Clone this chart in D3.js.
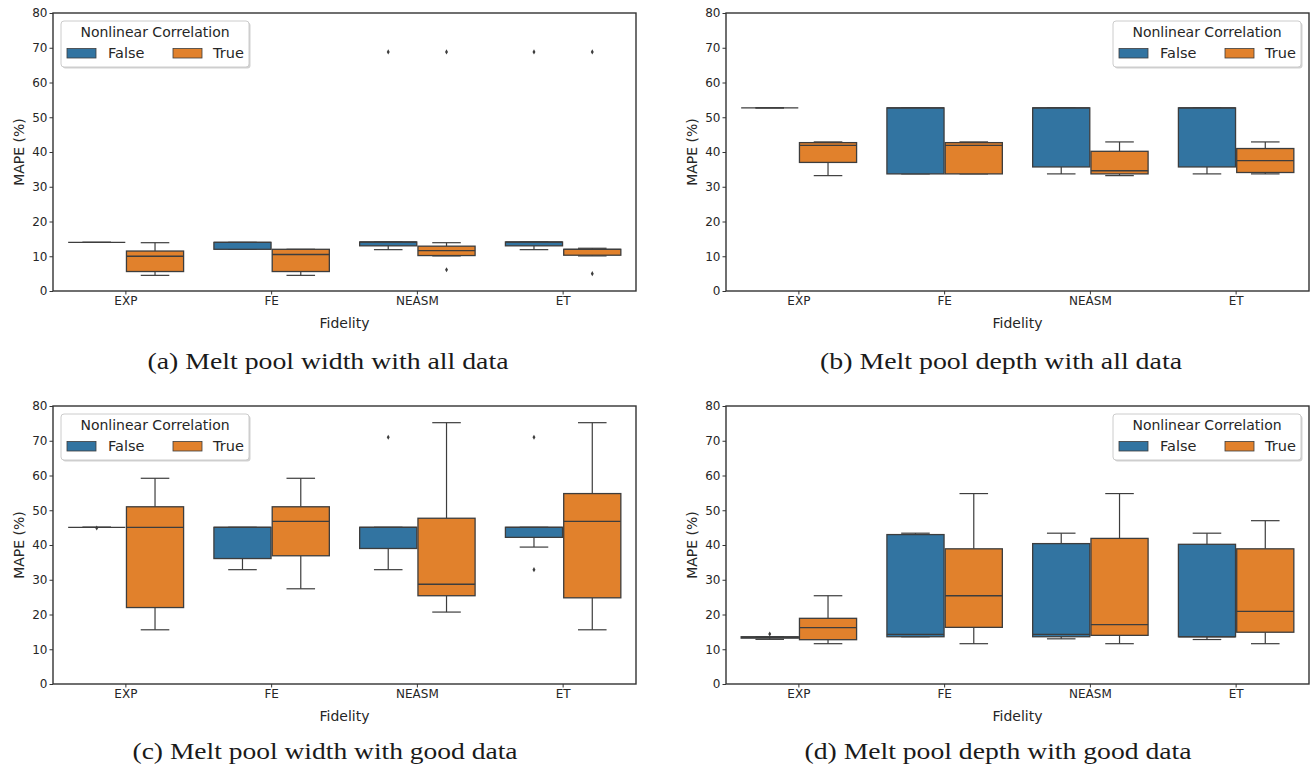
<!DOCTYPE html>
<html>
<head>
<meta charset="utf-8">
<script src="https://cdn.jsdelivr.net/npm/d3@7"></script>
<style>
  body { margin: 0; background: #fff; }
</style>
</head>
<body>
<div id="container"></div>
<script>
/* CONSTANTS AND GLOBALS */
const width = 1312,
  height = 770;

const fidelity = ["EXP", "FE", "NEASM", "ET"];
const hue = ["False", "True"];
const hueColors = ["#3274a1", "#e1812c"];
const yTicks = [0, 10, 20, 30, 40, 50, 60, 70, 80];
const lineGray = "#3d3d3d";

/* DATA: [lower whisker, q1, median, q3, upper whisker] per fidelity */
const widthAllFalse = [
  [14.0, 14.0, 14.0, 14.0, 14.0],
  [12.0, 12.0, 14.0, 14.0, 14.0],
  [11.9, 13.0, 14.1, 14.1, 14.1],
  [11.9, 13.0, 14.1, 14.1, 14.1]
];
const widthAllTrue = [
  [4.5, 5.6, 10.0, 11.5, 13.9],
  [4.5, 5.6, 10.5, 12.0, 12.0],
  [10.1, 10.2, 11.6, 12.9, 13.9],
  [10.1, 10.3, 12.0, 12.0, 12.3]
];
const widthAllFalseOut = [[], [], [68.8], [68.8]];
const widthAllTrueOut = [[], [], [68.8, 6.1], [68.8, 5.0]];

const depthAllFalse = [
  [52.7, 52.7, 52.7, 52.7, 52.7],
  [33.7, 33.7, 52.7, 52.7, 52.7],
  [33.7, 35.7, 52.7, 52.7, 52.7],
  [33.7, 35.7, 52.7, 52.7, 52.7]
];
const depthAllTrue = [
  [33.2, 37.0, 41.9, 42.7, 42.9],
  [33.7, 33.7, 41.9, 42.7, 42.9],
  [33.2, 33.7, 34.6, 40.2, 42.9],
  [33.7, 34.1, 37.5, 41.0, 42.9]
];
const depthAllFalseOut = [[], [], [], []];
const depthAllTrueOut = [[], [], [], []];

const widthGoodFalse = [
  [45.1, 45.1, 45.1, 45.1, 45.1],
  [32.9, 36.1, 45.1, 45.1, 45.1],
  [32.9, 39.0, 45.1, 45.1, 45.1],
  [39.4, 42.2, 45.1, 45.1, 45.1]
];
const widthGoodTrue = [
  [15.6, 22.0, 45.1, 51.0, 59.2],
  [27.4, 36.9, 46.8, 51.0, 59.2],
  [20.7, 25.4, 28.7, 47.7, 75.2],
  [15.6, 24.8, 46.8, 54.8, 75.2]
];
const widthGoodFalseOut = [[44.9], [], [71.0], [71.0, 32.9]];
const widthGoodTrueOut = [[], [], [], []];

const depthGoodFalse = [
  [12.85, 13.2, 13.4, 13.6, 13.6],
  [13.6, 13.6, 14.3, 43.0, 43.4],
  [13.0, 13.6, 14.3, 40.4, 43.4],
  [12.8, 13.6, 13.6, 40.2, 43.4]
];
const depthGoodTrue = [
  [11.6, 12.75, 16.2, 18.9, 25.4],
  [11.6, 16.3, 25.4, 38.9, 54.8],
  [11.6, 14.0, 17.1, 41.9, 54.8],
  [11.6, 14.9, 20.9, 38.9, 47.0]
];
const depthGoodFalseOut = [[14.4], [], [], []];
const depthGoodTrueOut = [[], [], [], []];

const captions = [
  "(a) Melt pool width with all data",
  "(b) Melt pool depth with all data",
  "(c) Melt pool width with good data",
  "(d) Melt pool depth with good data"
];

/* PANEL LAYOUT */
const panels = [
  { left: 53, right: 636, top: 13, bottom: 291, legend: "left",
    stats: [widthAllFalse, widthAllTrue], out: [widthAllFalseOut, widthAllTrueOut],
    cap: captions[0], capX: 328, capY: 369, capW: 361 },
  { left: 726, right: 1309, top: 13, bottom: 291, legend: "right",
    stats: [depthAllFalse, depthAllTrue], out: [depthAllFalseOut, depthAllTrueOut],
    cap: captions[1], capX: 1001, capY: 369, capW: 362 },
  { left: 53, right: 636, top: 406, bottom: 684, legend: "left",
    stats: [widthGoodFalse, widthGoodTrue], out: [widthGoodFalseOut, widthGoodTrueOut],
    cap: captions[2], capX: 325, capY: 759, capW: 385 },
  { left: 726, right: 1309, top: 406, bottom: 684, legend: "right",
    stats: [depthGoodFalse, depthGoodTrue], out: [depthGoodFalseOut, depthGoodTrueOut],
    cap: captions[3], capX: 998, capY: 759, capW: 387 }
];

const svg = d3.select("#container")
  .append("svg")
  .attr("width", width)
  .attr("height", height)
  .style("background-color", "white")
  .style("font-family", "'DejaVu Sans', sans-serif");

panels.forEach(p => {
  const g = svg.append("g");

  /* SCALES */
  const xScale = d3.scaleBand()
    .domain(fidelity)
    .range([p.left, p.right]);
  const bw = xScale.bandwidth();
  const hueScale = d3.scaleBand()
    .domain(hue)
    .range([bw * 0.1, bw * 0.9]);
  const boxW = hueScale.bandwidth() * 0.98;
  const yScale = d3.scaleLinear()
    .domain([0, 80])
    .range([p.bottom, p.top]);

  /* AXES */
  const yAxis = g.append("g")
    .attr("transform", `translate(${p.left}, 0)`)
    .call(d3.axisLeft(yScale).tickValues(yTicks).tickSize(3.5).tickPadding(2));
  const xAxis = g.append("g")
    .attr("transform", `translate(0, ${p.bottom})`)
    .call(d3.axisBottom(xScale).tickSize(3.5).tickPadding(2));
  [yAxis, xAxis].forEach(a => {
    a.attr("font-family", null);
    a.select(".domain").remove();
    a.selectAll("line").attr("stroke", "#333").attr("stroke-width", 1);
    a.selectAll("text").attr("font-size", 12).attr("fill", "#262626");
  });

  g.append("text")
    .attr("transform", `translate(${p.left - 34}, ${(p.top + p.bottom) / 2}) rotate(-90)`)
    .attr("dy", "0.35em")
    .attr("text-anchor", "middle")
    .attr("font-size", 14)
    .attr("fill", "#262626")
    .text("MAPE (%)");

  g.append("text")
    .attr("x", (p.left + p.right) / 2)
    .attr("y", p.bottom + 37)
    .attr("text-anchor", "middle")
    .attr("font-size", 14)
    .attr("fill", "#262626")
    .text("Fidelity");

  /* BOXES */
  hue.forEach((h, hi) => {
    const stats = p.stats[hi];
    fidelity.forEach((f, fi) => {
      const [lo, q1, med, q3, up] = stats[fi];
      const cx = xScale(f) + hueScale(h) + hueScale.bandwidth() / 2;
      const bg = g.append("g");
      // whiskers
      bg.append("line")
        .attr("x1", cx).attr("x2", cx)
        .attr("y1", yScale(q3)).attr("y2", yScale(up))
        .attr("stroke", lineGray).attr("stroke-width", 1.2);
      bg.append("line")
        .attr("x1", cx).attr("x2", cx)
        .attr("y1", yScale(q1)).attr("y2", yScale(lo))
        .attr("stroke", lineGray).attr("stroke-width", 1.2);
      [lo, up].forEach(v => {
        bg.append("line")
          .attr("x1", cx - boxW / 4).attr("x2", cx + boxW / 4)
          .attr("y1", yScale(v)).attr("y2", yScale(v))
          .attr("stroke", lineGray).attr("stroke-width", 1.2);
      });
      bg.append("rect")
        .attr("x", cx - boxW / 2)
        .attr("width", boxW)
        .attr("y", yScale(q3))
        .attr("height", Math.max(0, yScale(q1) - yScale(q3)))
        .attr("fill", hueColors[hi])
        .attr("stroke", lineGray)
        .attr("stroke-width", 1.3);
      bg.append("line")
        .attr("x1", cx - boxW / 2).attr("x2", cx + boxW / 2)
        .attr("y1", yScale(med)).attr("y2", yScale(med))
        .attr("stroke", lineGray).attr("stroke-width", 1.3);
      // fliers
      bg.selectAll(".flier")
        .data(p.out[hi][fi])
        .join("path")
        .attr("class", "flier")
        .attr("d", d3.symbol(d3.symbolDiamond, 7.5))
        .attr("transform", d => `translate(${cx}, ${yScale(d)})`)
        .attr("fill", lineGray);
    });
  });

  /* SPINES */
  g.append("rect")
    .attr("x", p.left).attr("y", p.top)
    .attr("width", p.right - p.left)
    .attr("height", p.bottom - p.top)
    .attr("fill", "none")
    .attr("stroke", "#333")
    .attr("stroke-width", 1.4);

  /* LEGEND */
  const lw = 188, lh = 46;
  const lx = p.legend === "left" ? p.left + 8 : p.right - 8 - lw;
  const ly = p.top + 8;
  const leg = g.append("g").attr("transform", `translate(${lx}, ${ly})`);
  leg.append("rect")
    .attr("x", 1.5).attr("y", 1.5)
    .attr("width", lw).attr("height", lh).attr("rx", 3)
    .attr("fill", "#000").attr("opacity", 0.18);
  leg.append("rect")
    .attr("width", lw).attr("height", lh).attr("rx", 3)
    .attr("fill", "white")
    .attr("stroke", "#cccccc")
    .attr("stroke-width", 1);
  leg.append("text")
    .attr("x", lw / 2).attr("y", 16)
    .attr("text-anchor", "middle")
    .attr("font-size", 14)
    .attr("fill", "#262626")
    .text("Nonlinear Correlation");
  hue.forEach((h, i) => {
    const ox = i === 0 ? 6 : 112;
    leg.append("rect")
      .attr("x", ox).attr("y", 27.5)
      .attr("width", 29).attr("height", 9.5)
      .attr("fill", hueColors[i])
      .attr("stroke", lineGray)
      .attr("stroke-width", 0.8);
    leg.append("text")
      .attr("x", ox + (i === 0 ? 41 : 40)).attr("y", 37)
      .attr("font-size", 14.5)
      .attr("fill", "#262626")
      .text(h);
  });

  /* CAPTION */
  svg.append("text")
    .attr("x", p.capX)
    .attr("y", p.capY)
    .attr("text-anchor", "middle")
    .style("font-family", "'Liberation Serif', 'DejaVu Serif', serif")
    .attr("font-size", 23)
    .attr("fill", "#1a1a1a")
    .attr("textLength", p.capW)
    .attr("lengthAdjust", "spacingAndGlyphs")
    .text(p.cap);
});
</script>
</body>
</html>
